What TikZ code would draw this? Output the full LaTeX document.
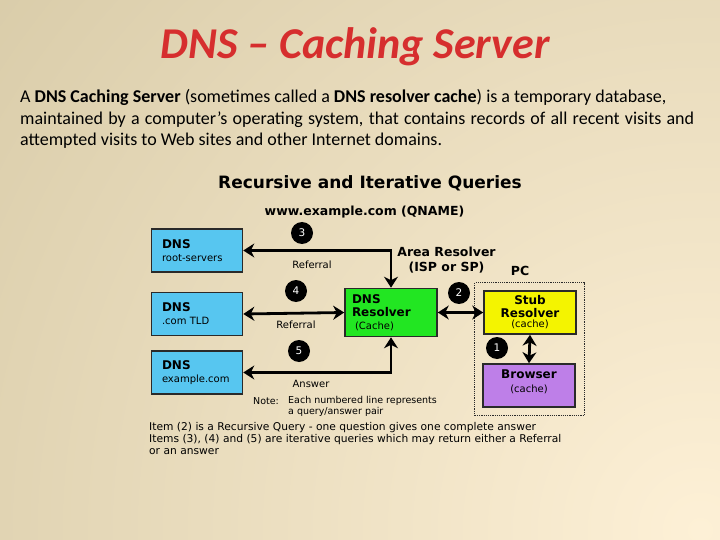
\documentclass[tikz,border=0pt]{standalone}
\usepackage{fontspec}
\setmainfont{Carlito}
\newfontfamily\dejavu{DejaVu Sans}
\usetikzlibrary{arrows.meta,fit}

\definecolor{bgtan}{HTML}{D1C49F}
\definecolor{bgcream}{HTML}{FDF0D6}
\definecolor{titlered}{HTML}{D62E2E}
\definecolor{dnsblue}{HTML}{57C6F0}
\definecolor{cachegreen}{HTML}{22E622}
\definecolor{stubyellow}{HTML}{F4F400}
\definecolor{browserpurple}{HTML}{BE7FE8}
\definecolor{boxline}{HTML}{2A2A2A}

\begin{document}
\begin{tikzpicture}[x=1pt, y=-1pt, >={Stealth[length=11pt,width=14pt]},
  srvbox/.style={draw=boxline, line width=1.6pt, fill=dnsblue, minimum width=91pt, minimum height=43pt, inner sep=0pt, align=left, text width=70pt, font=\dejavu\fontsize{10}{13}\selectfont},
  pcbox/.style={draw=boxline, line width=1.6pt, minimum width=92pt, minimum height=43pt, inner sep=0pt, align=center, font=\dejavu\fontsize{10}{13}\selectfont},
  numdot/.style={circle, fill=black, minimum size=22pt, inner sep=0pt, text=white, font=\dejavu\fontsize{10.5}{12}\selectfont},
  lbl/.style={font=\dejavu\fontsize{10}{12}\selectfont, inner sep=0pt},
  link/.style={line width=2.8pt, black},
  bt/.style={font=\dejavu\bfseries\fontsize{12.5}{14}\selectfont}]
	\useasboundingbox (0,0) rectangle (720,540);
	\begin{scope}
	\clip (0,0) rectangle (720,540);
	\shade[inner color=bgcream, outer color=bgtan] (700,530) circle (1100pt);
	\end{scope}
	% title and text
	\node[font=\bfseries\itshape\fontsize{44}{50}\selectfont, text=titlered] (title) at (355,47) {DNS – Caching Server};
	\node[anchor=base west, font=\fontsize{18}{22}\selectfont, inner sep=0pt] (para1) at (20,103) {A \textbf{DNS Caching Server} (sometimes called a \textbf{DNS resolver cache}) is a temporary database,};
	\node[anchor=base west, font=\fontsize{18}{22}\selectfont, inner sep=0pt] (para2) at (20,125) {\makebox[674pt][s]{maintained by a computer's operating system, that contains records of all recent visits and}};
	\node[anchor=base west, font=\fontsize{18}{22}\selectfont, inner sep=0pt] (para3) at (20,146) {attempted visits to Web sites and other Internet domains.};
	% diagram
	\node[font=\dejavu\bfseries\fontsize{17}{20}\selectfont] (heading) at (370,183) {Recursive and Iterative Queries};
	\node[font=\dejavu\bfseries\fontsize{12.5}{14}\selectfont] (qname) at (364.5,212) {www.example.com (QNAME)};

	\node[srvbox] (root) at (197,250.5) {\textbf{\fontsize{12}{13}\selectfont DNS}\\ root-servers};
	\node[srvbox] (com) at (197,314) {\textbf{\fontsize{12}{13}\selectfont DNS}\\ .com TLD};
	\node[srvbox] (example) at (197,372.5) {\textbf{\fontsize{12}{13}\selectfont DNS}\\ example.com};
	\node[pcbox, fill=cachegreen, minimum height=48pt, align=left, text width=78pt] (resolver) at (391,312.5) {\textbf{\fontsize{12}{12}\selectfont DNS}\\ \textbf{\fontsize{12}{12}\selectfont Resolver}\\ \hspace*{3pt}(Cache)};
	\node[pcbox, fill=stubyellow] (stub) at (530,312.5) {\textbf{\fontsize{12}{15}\selectfont Stub}\\ \textbf{\fontsize{12}{15}\selectfont Resolver}\\[-3pt] (cache)};
	\node[pcbox, fill=browserpurple] (browser) at (529,385.5) {\textbf{\fontsize{12}{16}\selectfont Browser}\\[1pt] (cache)\\[-4pt] \mbox{}};
	\node[draw=boxline, line width=1.2pt, densely dotted, inner sep=7.5pt, fit=(stub)(browser)] (pc) {};

	\node[bt] (area) at (446.5,252) {Area Resolver};
	\node[bt] (isp) at (446.5,268) {(ISP or SP)};
	\node[bt] (pclbl) at (520,271) {PC};

	\draw[link, <->] (root.east) -| (resolver.north);
	\draw[link, <->] (com.east) -- (resolver.west);
	\draw[link, <->] (example.east) -| (resolver.south);
	\draw[link, <->] (resolver.east) -- (stub.west);
	\draw[link, <->] (stub.south) -- (browser.north);

	\node[numdot] (n3) at (302,233) {3};
	\node[numdot] (n4) at (296,291) {4};
	\node[numdot] (n5) at (299,351) {5};
	\node[numdot] (n2) at (459,293) {2};
	\node[numdot] (n1) at (497,348) {1};

	\node[lbl] (ref1) at (312,264.5) {Referral};
	\node[lbl] (ref2) at (296,324.5) {Referral};
	\node[lbl] (answer) at (311,384) {Answer};
	\node[lbl, font=\dejavu\fontsize{9.5}{11.5}\selectfont] (notelbl) at (266,401.5) {Note:};
	\node[lbl, anchor=north west, align=left, font=\dejavu\fontsize{9.5}{11.5}\selectfont] (note) at (288,396) {Each numbered line represents\\ a query/answer pair};
	\node[lbl, anchor=north west, align=left, font=\dejavu\fontsize{10.7}{12}\selectfont] (items) at (149,422) {Item (2) is a Recursive Query - one question gives one complete answer\\ Items (3), (4) and (5) are iterative queries which may return either a Referral\\ or an answer};
\end{tikzpicture}
\end{document}
